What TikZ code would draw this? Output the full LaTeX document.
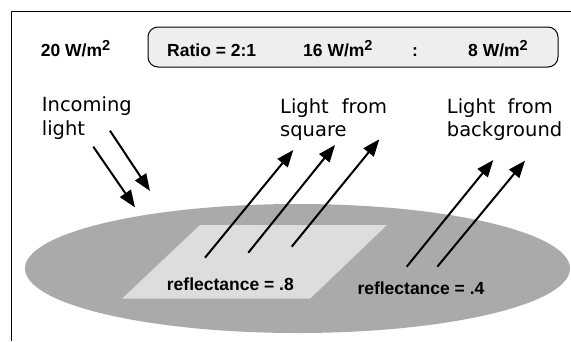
\documentclass[tikz,border=0pt]{standalone}
\usepackage{fontspec}
\setmainfont{DejaVu Sans}
\newfontfamily\valuefont{Liberation Sans}
\usetikzlibrary{arrows.meta}

\definecolor{groundgray}{HTML}{AAAAAA}
\definecolor{squaregray}{HTML}{DDDDDD}
\definecolor{boxgray}{HTML}{EEEEEE}

\tikzset{
  ray/.style={line width=2pt,-{Triangle[length=17pt,width=13pt]}},
  caption/.style={font=\fontsize{19.5}{23.3}\selectfont,inner sep=0pt,anchor=base west,align=left},
  value/.style={font=\valuefont\bfseries\fontsize{17.5}{20}\selectfont,inner sep=0pt,anchor=base west},
}
\newcommand{\sqm}{W/m\raisebox{6pt}{\fontsize{14.5}{15}\selectfont 2}}

\begin{document}
\begin{tikzpicture}[x=1pt,y=-1pt]
  \useasboundingbox (0,0) rectangle (571,341);
  \draw[line width=1.3pt] (571,11.5) -- (11.5,11.5) -- (11.5,341);

  % ratio box on top
  \node[draw,line width=1pt,fill=boxgray,rounded corners=10pt,minimum width=410pt,minimum height=40pt,inner sep=0pt] (ratiobox) at (353,47) {};
  \node[value] (incval) at (40.7,56.7) {20 \sqm};
  \node[value] (ratio) at (167,56.7) {Ratio = 2:1};
  \node[value] (sqval) at (303,56.7) {16 \sqm};
  \node[value,anchor=base] (colon) at (415,56.7) {:};
  \node[value] (bgval) at (468,56.7) {8 \sqm};

  % ground and square
  \fill[groundgray] (297.5,268.5) ellipse [x radius=272.5pt, y radius=64.5pt];
  \fill[squaregray] (200,225) -- (387,225) -- (310,298.7) -- (122,298.7) -- cycle;
  \node[value] (sqrefl) at (166.7,290.5) {reflectance = .8};
  \node[value] (bgrefl) at (357.3,294.5) {reflectance = .4};

  % captions (base = last line)
  \node[caption] (incoming) at (41.7,135) {Incoming\\light};
  \node[caption] (fromsq) at (280,136.7) {\makebox[107pt][s]{Light from}\\square};
  \node[caption] (frombg) at (446.7,136.7) {\makebox[106pt][s]{Light from}\\background};

  % incoming light
  \coordinate (inA) at (93.3,146.7);
  \coordinate (inB) at (110,130.7);
  \draw[ray] (inA) -- (135,207.3);
  \draw[ray] (inB) -- (150,191);

  % light from square
  \coordinate (sqA) at (205,257.7);
  \coordinate (sqB) at (248.3,252.7);
  \coordinate (sqC) at (291.7,246.7);
  \draw[ray] (sqA) -- (293.3,150);
  \draw[ray] (sqB) -- (335,145);
  \draw[ray] (sqC) -- (379.3,139.3);

  % light from background
  \coordinate (bgA) at (406.7,266.7);
  \coordinate (bgB) at (437.3,266.7);
  \draw[ray] (bgA) -- (493.3,160);
  \draw[ray] (bgB) -- (525,160.7);
\end{tikzpicture}
\end{document}
